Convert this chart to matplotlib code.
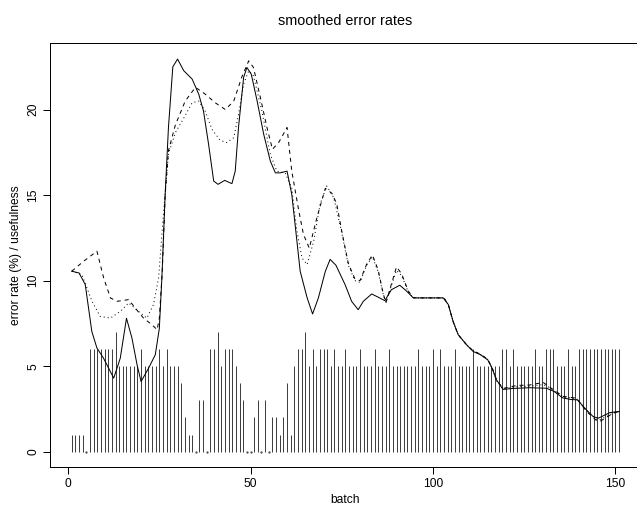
import numpy as np
import matplotlib
matplotlib.use("Agg")
import matplotlib.pyplot as plt

plt.rcParams['font.family'] = ['Liberation Sans', 'DejaVu Sans']

# usefulness per batch (vertical bars), batches 1..151
usefulness = [1, 1, 1, 1, 0, 6, 6, 6, 6, 6,
              6, 6, 7, 5, 5, 5, 5, 5, 5, 6,
              5, 5, 5, 5, 6, 5, 6, 5, 5, 5,
              4, 2, 1, 1, 0, 3, 3, 0, 6, 6,
              7, 5, 6, 6, 6, 5, 4, 3, 0, 0,
              2, 3, 0, 3, 0, 2, 2, 1, 2, 4,
              1, 5, 6, 6, 7, 5, 6, 5, 6, 6,
              6, 5, 6, 5, 5, 6, 5, 5, 5, 6,
              5, 5, 5, 6, 5, 5, 5, 6, 5, 5,
              5, 5, 5, 5, 5, 6, 5, 5, 5, 6,
              5, 6, 5, 5, 5, 6, 5, 5, 5, 5,
              6, 5, 5, 5, 5, 5, 5, 5, 6, 6,
              5, 6, 5, 5, 5, 5, 5, 6, 5, 5,
              6, 6, 6, 5, 5, 5, 6, 5, 5, 6,
              6, 6, 6, 6, 6, 6, 6, 6, 6, 6,
              6]

# smoothed error rate, solid line
solid_x = [1, 3, 4.7, 6.5, 7.9, 9.7, 12.5, 14.3, 16, 17.5, 18.9, 20, 22.1, 23.9, 25,
           25.7, 26.6, 27.5, 28.7, 30, 31.7, 34, 35.8, 37.1, 38.5, 39.9, 41.1, 42.9,
           44.9, 45.8, 46.7, 48.1, 49, 50.2, 51.8, 53.6, 55.4, 56.8, 58.1, 60, 61.3,
           62.3, 63.6, 65.5, 67, 68.6, 70.5, 71.8, 73.4, 75.9, 77.7, 79.5, 80.9, 83.2,
           85, 86.8, 88.6, 90.9, 92.8, 94.6, 97.3, 102.8, 104.2, 105.5, 106.9, 109.2,
           111, 113, 115, 116.2, 117.4, 119.2, 122, 126.5, 131.1, 133.2, 135.5, 137.8,
           139.6, 141.6, 143.9, 145.3, 146.6, 148.5, 151]
solid_y = [10.55, 10.45, 9.77, 7.03, 6.06, 5.47, 4.3, 5.47, 7.8, 6.64, 5.08, 4.1, 4.9,
           5.67, 7.2, 10.16, 15.04, 18.95, 22.5, 22.95, 22.27, 21.78, 20.9, 19.92,
           17.97, 15.82, 15.63, 15.86, 15.67, 16.4, 18.95, 21.88, 22.46, 22.07, 20.5,
           18.56, 17.0, 16.3, 16.3, 16.4, 15.04, 13.1, 10.55, 9.0, 8.05, 9.0, 10.55,
           11.24, 10.9, 9.77, 8.79, 8.3, 8.79, 9.22, 9.03, 8.83, 9.47, 9.73, 9.38,
           8.99, 8.99, 8.99, 8.6, 7.62, 6.84, 6.25, 5.86, 5.67, 5.37, 4.88, 4.2, 3.64,
           3.7, 3.74, 3.71, 3.52, 3.15, 3.05, 3.03, 2.54, 2.05, 1.96, 2.09, 2.29, 2.35]

# dashed line
dashed_x = [1, 4.3, 7.9, 9.75, 11.6, 13.4, 16.6, 18.4, 20.7, 23, 24.4, 25, 25.8, 26.6,
            27.5, 29.4, 32.1, 34.9, 37.6, 40.3, 43.1, 45.4, 47.6, 49.5, 50.8, 52.7,
            54.5, 56, 57.7, 60, 61.3, 63.2, 64.5, 66.1, 68.2, 70.5, 72.3, 73.6, 74.9,
            76.8, 78.6, 80, 81.8, 83.4, 85, 86.4, 87.1, 88.6, 90, 91.4, 93.2, 94.6, 97,
            103, 104.2, 105.5, 106.9, 109.2, 111, 113, 115, 116.2, 117.4, 119.2, 122.9,
            126.5, 130.2, 132, 135.7, 139.3, 142.1, 144.8, 145.7, 147.6, 149.4, 151]
dashed_y = [10.55, 11.14, 11.72, 10.16, 8.99, 8.79, 8.89, 8.4, 7.8, 7.42, 7.13, 7.8,
            10.5, 15.0, 17.6, 19.1, 20.5, 21.3, 20.9, 20.4, 20.0, 20.5, 21.9, 22.85,
            22.46, 20.7, 18.95, 17.68, 18.07, 18.95, 16.4, 14.1, 12.7, 11.9, 13.7, 15.4,
            15.1, 14.5, 13.0, 11.0, 10.1, 10.0, 10.95, 11.5, 10.6, 9.2, 8.7, 9.8, 10.8,
            10.4, 9.4, 9.0, 8.99, 8.99, 8.6, 7.62, 6.84, 6.25, 5.9, 5.7, 5.4, 4.9, 4.2,
            3.7, 3.87, 3.9, 4.05, 3.77, 3.23, 3.13, 2.35, 1.82, 1.76, 2.02, 2.25, 2.35]

# dotted line
dotted_x = [1, 3.8, 6.55, 8.8, 11.6, 14.3, 16.6, 19.3, 21.6, 23.4, 24.8, 26.2, 27.5,
            29.4, 31.7, 34, 35.8, 37.6, 39.4, 41.7, 43.5, 45.4, 46.7, 48.1, 49.5, 50.8,
            53.1, 55.4, 57.2, 59.5, 61.3, 62.7, 64.1, 65.5, 67.3, 69.1, 70.9, 72.8, 74.9,
            76.8, 78.6, 80, 81.8, 83.4, 85, 86.4, 87.1, 88.6, 90, 91.4, 93.2, 94.6, 97,
            103, 104.2, 105.5, 106.9, 109.2, 111, 113, 115, 116.2, 117.4, 119.2, 122.9,
            126.5, 130.2, 132, 135.7, 139.3, 142.1, 144.8, 145.5, 147.6, 149.4, 151]
dotted_y = [10.55, 10.35, 8.79, 7.91, 7.81, 8.2, 8.7, 8.2, 7.81, 8.6, 10.16, 14.1, 17.4,
            18.65, 19.5, 20.4, 20.5, 19.9, 18.85, 18.2, 18.07, 18.36, 19.7, 21.5, 22.27,
            21.97, 19.92, 17.4, 16.4, 16.3, 15.4, 12.9, 11.33, 10.94, 12.3, 14.5, 15.53,
            14.85, 12.9, 10.9, 10.0, 9.9, 10.9, 11.4, 10.5, 9.15, 8.75, 9.7, 10.6, 10.3,
            9.35, 9.0, 8.99, 8.99, 8.6, 7.62, 6.84, 6.25, 5.88, 5.68, 5.38, 4.9, 4.15,
            3.67, 3.8, 3.83, 3.92, 3.74, 3.2, 3.1, 2.42, 1.9, 1.84, 2.06, 2.27, 2.35]

x_ticks = [0, 50, 100, 150]
y_ticks = [0, 5, 10, 15, 20]

W, H = 637, 512
fig = plt.figure(figsize=(W / 100, H / 100), dpi=100)
# plot region runs past the right edge, as in the (cropped) original
ax = fig.add_axes([49.85 / W, 1 - 467.4 / H, (641 - 49.85) / W, (467.4 - 43.4) / H])

batch = np.arange(1, len(usefulness) + 1)
use = np.array(usefulness)
lw = 0.72
ax.vlines(batch, 0, use, colors='#404040', linewidth=lw)
zero = use == 0
ax.plot(batch[zero], use[zero], '.', color='#404040', ms=1.2)

ax.plot(solid_x, solid_y, color='black', lw=lw)
ax.plot(dashed_x, dashed_y, color='black', lw=lw, dashes=(4, 4))
ax.plot(dotted_x, dotted_y, color='black', lw=lw, dashes=(1, 3))

ymax = max(max(solid_y), max(dashed_y), max(dotted_y))
ax.set_xlim(1 - 0.04 * 150, 151 + 0.04 * 150)
ax.set_ylim(-0.04 * ymax, ymax * 1.04)

ax.set_xticks(x_ticks)
ax.set_yticks(y_ticks)
ax.tick_params(direction='out', length=5.2, width=lw, labelsize=8.64, color='black')
ax.tick_params(axis='x', pad=2.3)
ax.tick_params(axis='y', pad=2.5)
for lab in ax.get_yticklabels():
    lab.set_rotation(90)
    lab.set_va('center')
for s in ax.spines.values():
    s.set_linewidth(lw)

ax.set_title('smoothed error rates', fontsize=10.4, pad=13)
ax.set_xlabel('batch', fontsize=8.64, labelpad=3)
ax.set_ylabel('error rate (%) / usefulness', fontsize=8.64, labelpad=4)

fig.savefig('out.png', dpi=100)
